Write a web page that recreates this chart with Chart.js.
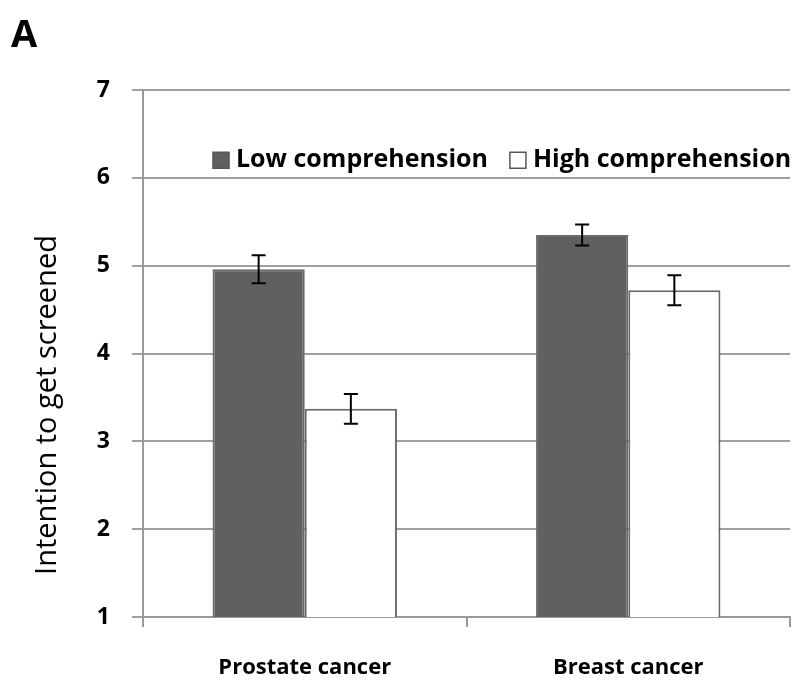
<!DOCTYPE html>
<html>
<head>
<meta charset="utf-8">
<script src="https://cdn.jsdelivr.net/npm/chart.js@4.4.1/dist/chart.umd.min.js"></script>
<style>
  html, body { margin: 0; padding: 0; background: #fff; }
  #wrap { position: relative; width: 792px; height: 682px; }
  #panel { position: absolute; left: 11px; top: 6px; font: bold 38px "Open Sans", sans-serif; color: #000; }
</style>
</head>
<body>
<div id="wrap">
  <div id="panel">A</div>
  <canvas id="chart" width="792" height="682"></canvas>
</div>
<script>
const categories = ['Prostate cancer', 'Breast cancer'];
const seriesNames = ['Low comprehension', 'High comprehension'];
const lowValues = [4.96, 5.35];
const highValues = [3.37, 4.72];
const lowErrors = [0.16, 0.12];
const highErrors = [0.17, 0.17];
const yTicks = [1, 2, 3, 4, 5, 6, 7];
const yTitle = 'Intention to get screened';

const errorBars = {
  id: 'errorBars',
  afterDatasetsDraw(chart) {
    const ctx = chart.ctx;
    const y = chart.scales.y;
    const errs = [lowErrors, highErrors];
    ctx.save();
    ctx.strokeStyle = '#000';
    ctx.lineWidth = 2;
    chart.data.datasets.forEach((ds, di) => {
      chart.getDatasetMeta(di).data.forEach((bar, i) => {
        const v = ds.data[i], e = errs[di][i];
        const top = y.getPixelForValue(v + e), bot = y.getPixelForValue(v - e);
        ctx.beginPath();
        ctx.moveTo(bar.x, top); ctx.lineTo(bar.x, bot);
        ctx.moveTo(bar.x - 7, top); ctx.lineTo(bar.x + 7, top);
        ctx.moveTo(bar.x - 7, bot); ctx.lineTo(bar.x + 7, bot);
        ctx.stroke();
      });
    });
    ctx.restore();
  }
};

// legend inside the plot, category labels and the y title (sits a bit low in the original)
const extras = {
  id: 'extras',
  afterDraw(chart) {
    const ctx = chart.ctx;
    const yMid = chart.scales.y.getPixelForValue(6.2);
    ctx.save();
    ctx.font = 'bold 25px "Open Sans", sans-serif';
    ctx.textBaseline = 'middle';
    let x = 213;
    chart.data.datasets.forEach((ds, i) => {
      ctx.fillStyle = ds.backgroundColor;
      ctx.strokeStyle = '#555';
      ctx.lineWidth = 1.5;
      ctx.fillRect(x, yMid - 8, 16, 16);
      ctx.strokeRect(x, yMid - 8, 16, 16);
      ctx.fillStyle = '#000';
      ctx.fillText(seriesNames[i], x + 23, yMid);
      x += 23 + ctx.measureText(seriesNames[i]).width + 22;
    });

    ctx.font = 'bold 22px "Open Sans", sans-serif';
    ctx.textAlign = 'center';
    const xs = chart.scales.x;
    categories.forEach((c, i) => {
      ctx.fillText(c, xs.getPixelForValue(i), chart.chartArea.bottom + 51);
    });

    ctx.translate(48, 405);
    ctx.rotate(-Math.PI / 2);
    ctx.font = '29px "Open Sans", sans-serif';
    ctx.fillText(yTitle, 0, 0);
    ctx.restore();
  }
};

new Chart(document.getElementById('chart'), {
  type: 'bar',
  data: {
    labels: categories,
    datasets: [
      { label: seriesNames[0], data: lowValues, backgroundColor: '#606060', borderColor: '#6a6a6a', borderWidth: 2, categoryPercentage: 0.57, barPercentage: 1 },
      { label: seriesNames[1], data: highValues, backgroundColor: '#ffffff', borderColor: '#6a6a6a', borderWidth: 2, categoryPercentage: 0.57, barPercentage: 1 }
    ]
  },
  options: {
    responsive: false,
    animation: false,
    layout: { padding: { left: 0, right: 2, top: 90, bottom: 0 } },
    plugins: { legend: { display: false }, tooltip: { enabled: false } },
    scales: {
      x: {
        grid: { offset: true, drawOnChartArea: false, color: '#999', lineWidth: 2, tickLength: 10 },
        border: { color: '#999', width: 2 },
        ticks: { display: false },
        afterFit(scale) { scale.height = 65; }
      },
      y: {
        min: 1, max: 7,
        afterBuildTicks(scale) { scale.ticks = yTicks.map(v => ({ value: v })); },
        afterFit(scale) { scale.width = 143; },
        grid: { color: '#a0a0a0', lineWidth: 2, tickLength: 11 },
        border: { color: '#999', width: 2 },
        ticks: { color: '#000', font: { family: '"Open Sans", sans-serif', size: 23, weight: 'bold' }, padding: 22 }
      }
    }
  },
  plugins: [errorBars, extras]
});
</script>
</body>
</html>
